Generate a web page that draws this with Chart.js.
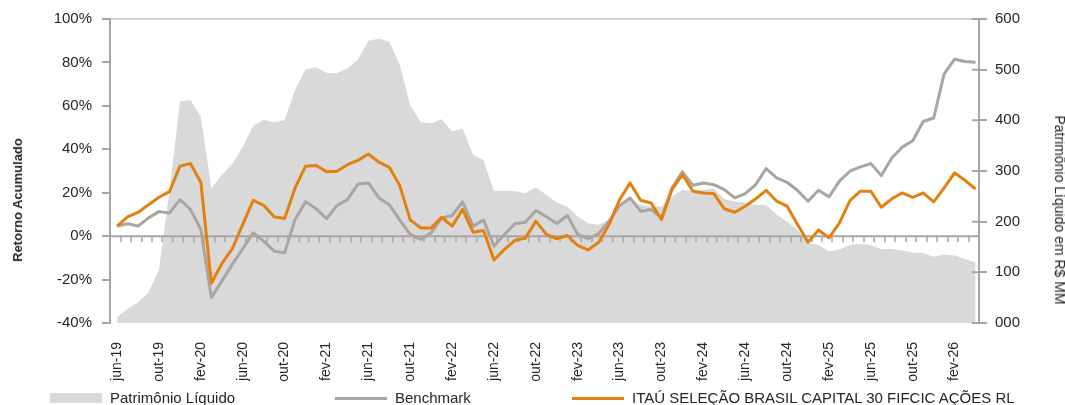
<!DOCTYPE html>
<html lang="pt-BR">
<head>
<meta charset="utf-8">
<title>Retorno Acumulado</title>
<script src="https://cdn.jsdelivr.net/npm/chart.js@4.4.1/dist/chart.umd.min.js"></script>
<style>
    html, body { margin: 0; padding: 0; background: #fff; }
    #wrap { position: relative; width: 1065px; height: 405px; font-family: "Liberation Sans", Arial, sans-serif; color: #262626; overflow: hidden; }
    #grafico { position: absolute; left: 0; top: 0; }
    .titulo-eixo { position: absolute; font-size: 14px; white-space: nowrap; line-height: 16px; }
    #tituloEsq { left: 18px; top: 200px; font-weight: bold; font-size: 13px; transform: translate(-50%, -50%) rotate(-90deg); }
    #tituloDir { left: 1060px; top: 210px; transform: translate(-50%, -50%) rotate(90deg); }
    .item { position: absolute; top: 390px; display: flex; align-items: center; font-size: 15px; line-height: 16px; white-space: nowrap; }
    .item span.cor { display: inline-block; width: 52px; margin-right: 8px; }
</style>
</head>
<body>
<div id="wrap">
    <canvas id="grafico" width="1065" height="405"></canvas>
    <div class="titulo-eixo" id="tituloEsq">Retorno Acumulado</div>
    <div class="titulo-eixo" id="tituloDir">Patrimônio Líquido em R$ MM</div>
    <div id="legenda"></div>
</div>
<script>
//meses do eixo x (jun-19 até abr-26)
const meses = [
    'jun-19', 'jul-19', 'ago-19', 'set-19', 'out-19', 'nov-19', 'dez-19',
    'jan-20', 'fev-20', 'mar-20', 'abr-20', 'mai-20', 'jun-20', 'jul-20', 'ago-20', 'set-20', 'out-20', 'nov-20', 'dez-20',
    'jan-21', 'fev-21', 'mar-21', 'abr-21', 'mai-21', 'jun-21', 'jul-21', 'ago-21', 'set-21', 'out-21', 'nov-21', 'dez-21',
    'jan-22', 'fev-22', 'mar-22', 'abr-22', 'mai-22', 'jun-22', 'jul-22', 'ago-22', 'set-22', 'out-22', 'nov-22', 'dez-22',
    'jan-23', 'fev-23', 'mar-23', 'abr-23', 'mai-23', 'jun-23', 'jul-23', 'ago-23', 'set-23', 'out-23', 'nov-23', 'dez-23',
    'jan-24', 'fev-24', 'mar-24', 'abr-24', 'mai-24', 'jun-24', 'jul-24', 'ago-24', 'set-24', 'out-24', 'nov-24', 'dez-24',
    'jan-25', 'fev-25', 'mar-25', 'abr-25', 'mai-25', 'jun-25', 'jul-25', 'ago-25', 'set-25', 'out-25', 'nov-25', 'dez-25',
    'jan-26', 'fev-26', 'mar-26', 'abr-26'
];

//retorno acumulado do fundo (%)
const retornoFundo = [
    4.6, 8.9, 10.9, 14.5, 17.9, 20.5, 32.2, 33.5, 24.8, -21.7,
    -12.7, -5.8, 5.4, 16.5, 14.2, 8.9, 8.1, 22.2, 32.2, 32.5,
    29.7, 29.9, 32.9, 34.9, 37.8, 34.1, 31.7, 23.3, 7.4, 3.8,
    3.8, 8.7, 4.6, 12.3, 1.8, 2.6, -11.0, -6.1, -2.0, -0.9,
    6.9, 0.8, -1.2, 0.3, -4.3, -6.4, -2.8, 5.4, 16.8, 24.5,
    16.5, 15.3, 7.7, 21.4, 28.3, 20.7, 19.9, 19.6, 12.6, 11.0,
    13.8, 17.2, 21.1, 16.1, 13.8, 5.4, -2.8, 2.8, -0.8, 6.1,
    16.4, 20.7, 20.7, 13.3, 17.2, 19.9, 17.9, 19.9, 15.8, 22.2,
    29.1, 25.7, 21.7
];

//retorno acumulado do benchmark (%)
const retornoBenchmark = [
    4.6, 5.7, 4.6, 8.4, 11.3, 10.6, 16.8, 12.3, 3.1, -28.3,
    -20.7, -13.0, -5.8, 1.5, -2.3, -6.9, -7.7, 7.7, 15.8, 12.7,
    8.0, 14.1, 16.8, 24.0, 24.5, 17.6, 14.5, 7.4, 0.8, -1.5,
    1.5, 8.4, 9.5, 15.8, 4.6, 7.4, -4.6, 0.8, 5.7, 6.4,
    11.8, 8.9, 5.8, 9.5, 0.8, -1.2, 1.2, 6.9, 14.1, 17.6,
    11.5, 12.3, 8.4, 22.2, 29.6, 23.4, 24.5, 23.7, 21.4, 17.6,
    19.6, 23.7, 31.1, 26.8, 24.8, 21.0, 16.1, 21.1, 18.1, 25.3,
    29.9, 31.9, 33.4, 27.9, 36.0, 41.0, 43.9, 52.8, 54.4, 74.7,
    81.5, 80.4, 80.1
];

//patrimônio líquido (R$ MM)
const patrimonio = [
    12, 28, 41, 60, 105, 260, 437, 440, 407, 266,
    292, 314, 348, 389, 401, 396, 400, 460, 501, 505,
    494, 493, 503, 520, 557, 561, 555, 509, 430, 396,
    394, 402, 378, 384, 332, 321, 260, 261, 260, 256,
    268, 253, 238, 230, 210, 197, 194, 204, 231, 246,
    233, 230, 230, 250, 263, 260, 263, 266, 244, 240,
    238, 233, 233, 214, 200, 184, 158, 154, 141, 145,
    154, 156, 154, 146, 146, 143, 139, 138, 131, 135,
    133, 126, 120
];

const ticksRetorno = [-40, -20, 0, 20, 40, 60, 80, 100];
const ticksPatrimonio = [0, 100, 200, 300, 400, 500, 600];

const cinzaEixo = '#a6a6a6';
const fonte = { family: '"Liberation Sans", Arial, sans-serif', size: 15 };
const fonteMeses = { family: '"Liberation Sans", Arial, sans-serif', size: 14 };

const pontos = arr => arr.map((v, i) => ({ x: i, y: v }));

//linha do zero com as marcas de cada mês (desenhada por cima da área)
const eixoZero = {
    id: 'eixoZero',
    afterDatasetDraw(chart, args) {
        if (args.index !== 0) return;
        const { ctx, chartArea, scales } = chart;
        const y0 = scales.y.getPixelForValue(0);
        ctx.save();
        ctx.strokeStyle = cinzaEixo;
        ctx.lineWidth = 2;
        ctx.beginPath();
        ctx.moveTo(chartArea.left, y0);
        ctx.lineTo(chartArea.right, y0);
        ctx.stroke();
        ctx.lineWidth = 1.5;
        ctx.beginPath();
        for (let i = 0; i < meses.length - 1; i++) {
            const px = Math.round(scales.x.getPixelForValue(i + 0.33));
            ctx.moveTo(px, y0);
            ctx.lineTo(px, y0 + 6);
        }
        ctx.stroke();
        ctx.restore();
    },
    afterDraw(chart) {
        //marcas do eixo direito cruzam o eixo
        const { ctx, chartArea, scales } = chart;
        ctx.save();
        ctx.strokeStyle = cinzaEixo;
        ctx.lineWidth = 2;
        ctx.beginPath();
        scales.y2.ticks.forEach(t => {
            const py = scales.y2.getPixelForValue(t.value);
            ctx.moveTo(chartArea.right - 7, py);
            ctx.lineTo(chartArea.right, py);
        });
        ctx.stroke();
        ctx.restore();
    }
};

const chart = new Chart(document.getElementById('grafico'), {
    type: 'line',
    data: {
        datasets: [
            {
                label: 'Patrimônio Líquido',
                data: pontos(patrimonio),
                yAxisID: 'y2',
                backgroundColor: '#d9d9d9',
                borderWidth: 0,
                fill: 'start',
                pointRadius: 0,
                order: 3,
            },
            {
                label: 'Benchmark',
                data: pontos(retornoBenchmark),
                yAxisID: 'y',
                borderColor: '#aaa59f',
                borderWidth: 3,
                pointRadius: 0,
                fill: false,
                order: 2,
            },
            {
                label: 'ITAÚ SELEÇÃO BRASIL CAPITAL 30 FIFCIC AÇÕES RL',
                data: pontos(retornoFundo),
                yAxisID: 'y',
                borderColor: '#e3800f',
                borderWidth: 3,
                pointRadius: 0,
                fill: false,
                order: 1,
            }
        ],
    },
    options: {
        responsive: false,
        animation: false,
        layout: { padding: { top: 19, left: 0, right: 0, bottom: 0 } },
        plugins: { legend: { display: false }, tooltip: { enabled: false } },
        elements: { line: { tension: 0, borderJoinStyle: 'round' } },
        scales: {
            x: {
                type: 'linear',
                min: -0.68,
                max: 82.33,
                grid: { display: false },
                border: { display: false },
                afterBuildTicks: s => { s.ticks = meses.map((m, i) => ({ value: i })).filter(t => t.value % 4 === 0); },
                afterFit: s => { s.height = 82; },
                ticks: {
                    autoSkip: false,
                    maxRotation: 90,
                    minRotation: 90,
                    padding: 11,
                    color: '#262626',
                    font: fonteMeses,
                    callback: v => meses[v],
                },
            },
            y: {
                position: 'left',
                min: -40,
                max: 100,
                afterBuildTicks: s => { s.ticks = ticksRetorno.map(v => ({ value: v })); },
                afterFit: s => { s.width = 110; },
                ticks: { color: '#262626', font: fonte, padding: 10, callback: v => v + '%' },
                grid: {
                    drawOnChartArea: true,
                    color: c => c.tick && c.tick.value === 100 ? '#d0d0d0' : 'rgba(0,0,0,0)',
                    tickColor: cinzaEixo,
                    tickLength: 8,
                    lineWidth: 2,
                },
                border: { color: cinzaEixo, width: 2 },
            },
            y2: {
                position: 'right',
                min: 0,
                max: 600,
                afterBuildTicks: s => { s.ticks = ticksPatrimonio.map(v => ({ value: v })); },
                afterFit: s => { s.width = 86; },
                ticks: { color: '#262626', font: fonte, padding: 8, callback: v => String(v).padStart(3, '0') },
                grid: { drawOnChartArea: false, color: cinzaEixo, tickLength: 8, lineWidth: 2 },
                border: { color: cinzaEixo, width: 2 },
            },
        },
    },
    plugins: [eixoZero],
});

//legenda em html
const posLegenda = [50, 335, 572];
const legenda = document.getElementById('legenda');
chart.data.datasets.forEach((ds, i) => {
    const item = document.createElement('div');
    item.className = 'item';
    item.style.left = posLegenda[i] + 'px';
    const cor = document.createElement('span');
    cor.className = 'cor';
    if (ds.fill) {
        cor.style.height = '10px';
        cor.style.background = ds.backgroundColor;
    } else {
        cor.style.height = '3px';
        cor.style.background = ds.borderColor;
    }
    item.appendChild(cor);
    item.appendChild(document.createTextNode(ds.label));
    legenda.appendChild(item);
});
</script>
</body>
</html>
